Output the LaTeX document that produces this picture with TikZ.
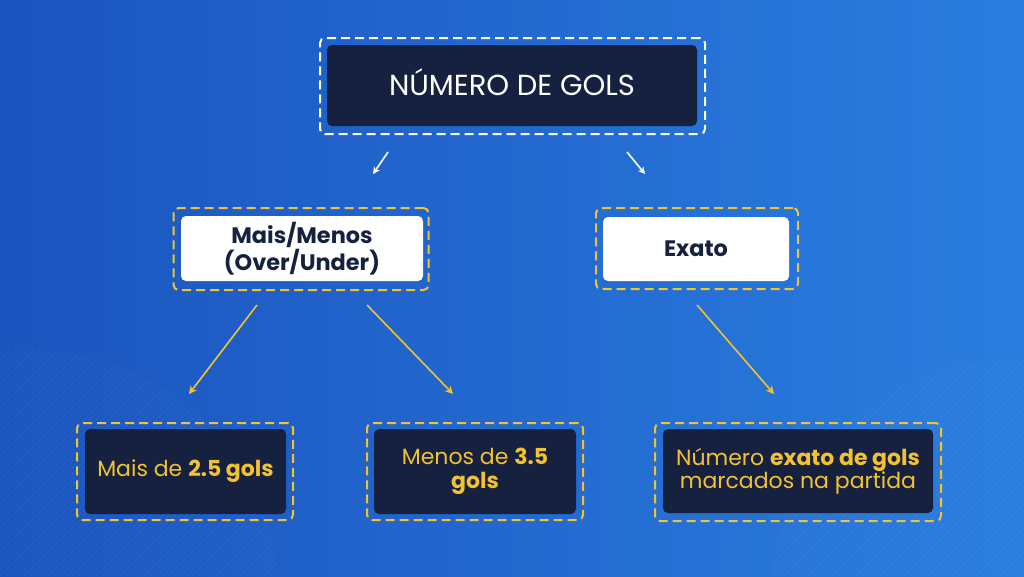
\documentclass[tikz,border=0pt]{standalone}
\usepackage{fontspec}
\setmainfont{Poppins}
\usetikzlibrary{arrows.meta}
\definecolor{bgL}{HTML}{1B54BF}
\definecolor{bgR}{HTML}{2A7EDF}
\definecolor{navy}{HTML}{15213F}
\definecolor{gold}{HTML}{F2C232}
\tikzset{
  darkbox/.style={fill=navy, rounded corners=5pt, inner sep=0pt, align=center},
  whitebox/.style={fill=white, rounded corners=5pt, inner sep=0pt, align=center, text=navy, font=\fontsize{22.4}{23.5}\selectfont\bfseries},
  frame/.style={draw, line width=2pt, dash pattern=on 9pt off 5pt, rounded corners=5pt, inner sep=0pt},
  goldframe/.style={frame, draw=gold},
  whiteframe/.style={frame, draw=white},
  goldarrow/.style={draw=gold, line width=1.6pt, -{Stealth[length=8pt,width=8pt]}},
  whitearrow/.style={draw=white, line width=1.6pt, -{Stealth[length=7pt,width=7pt]}},
  bottomtext/.style={text=gold, font=\fontsize{22}{23.5}\selectfont}
}
\begin{document}
\begin{tikzpicture}[x=1pt,y=-1pt]
\useasboundingbox (0,0) rectangle (1024,576);
\shade[left color=bgL, right color=bgR] (0,0) rectangle (1024,576);
% subtle hatching in lower corners
\begin{scope}
\clip (30,600) circle (250pt);
\foreach \i in {0,6,...,520} {\draw[white, opacity=0.05, line width=0.8pt] (\i-240,576) -- (\i,336);}
\end{scope}
\begin{scope}
\clip (1010,600) circle (240pt);
\foreach \i in {760,766,...,1300} {\draw[white, opacity=0.05, line width=0.8pt] (\i-240,576) -- (\i,336);}
\end{scope}

% top
\node[whiteframe, minimum width=385pt, minimum height=96pt] (topf) at (512.5,86) {};
\node[darkbox, minimum width=370pt, minimum height=81pt, text=white, font=\fontsize{29}{32}\selectfont] (top) at (512,85.5) {\raisebox{6pt}{NÚMERO DE GOLS}};

% second level
\node[goldframe, minimum width=255pt, minimum height=82pt] (mmf) at (301,249) {};
\node[whitebox, minimum width=242pt, minimum height=65pt] (mm) at (302,248.5) {Mais/Menos\\(Over/Under)};
\node[goldframe, minimum width=202pt, minimum height=81pt] (exf) at (697,248.5) {};
\node[whitebox, minimum width=186pt, minimum height=64pt] (ex) at (696,249) {Exato};

% bottom
\node[goldframe, minimum width=216pt, minimum height=97pt] (b1f) at (185,471.5) {};
\node[darkbox, bottomtext, minimum width=201pt, minimum height=85pt] (b1) at (185.5,471.5) {Mais de \textbf{2.5 gols}};
\node[goldframe, minimum width=216pt, minimum height=97pt] (b2f) at (475,471.5) {};
\node[darkbox, bottomtext, minimum width=202pt, minimum height=85pt] (b2) at (475,471.5) {Menos de \textbf{3.5}\\\textbf{gols}};
\node[goldframe, minimum width=286pt, minimum height=98pt] (b3f) at (798,472) {};
\node[darkbox, bottomtext, minimum width=270pt, minimum height=84pt] (b3) at (798,471) {Número \textbf{exato de gols}\\marcados na partida};

% arrow endpoints
\coordinate (t1s) at (388,152); \coordinate (t1e) at (373,174);
\coordinate (t2s) at (627,152); \coordinate (t2e) at (645,174);
\coordinate (m1s) at (257,305); \coordinate (m1e) at (189,394);
\coordinate (m2s) at (367,305); \coordinate (m2e) at (453,394);
\coordinate (e1s) at (697,305); \coordinate (e1e) at (774,394);

\draw[whitearrow] (t1s) -- (t1e);
\draw[whitearrow] (t2s) -- (t2e);
\draw[goldarrow] (m1s) -- (m1e);
\draw[goldarrow] (m2s) -- (m2e);
\draw[goldarrow] (e1s) -- (e1e);
\end{tikzpicture}
\end{document}
